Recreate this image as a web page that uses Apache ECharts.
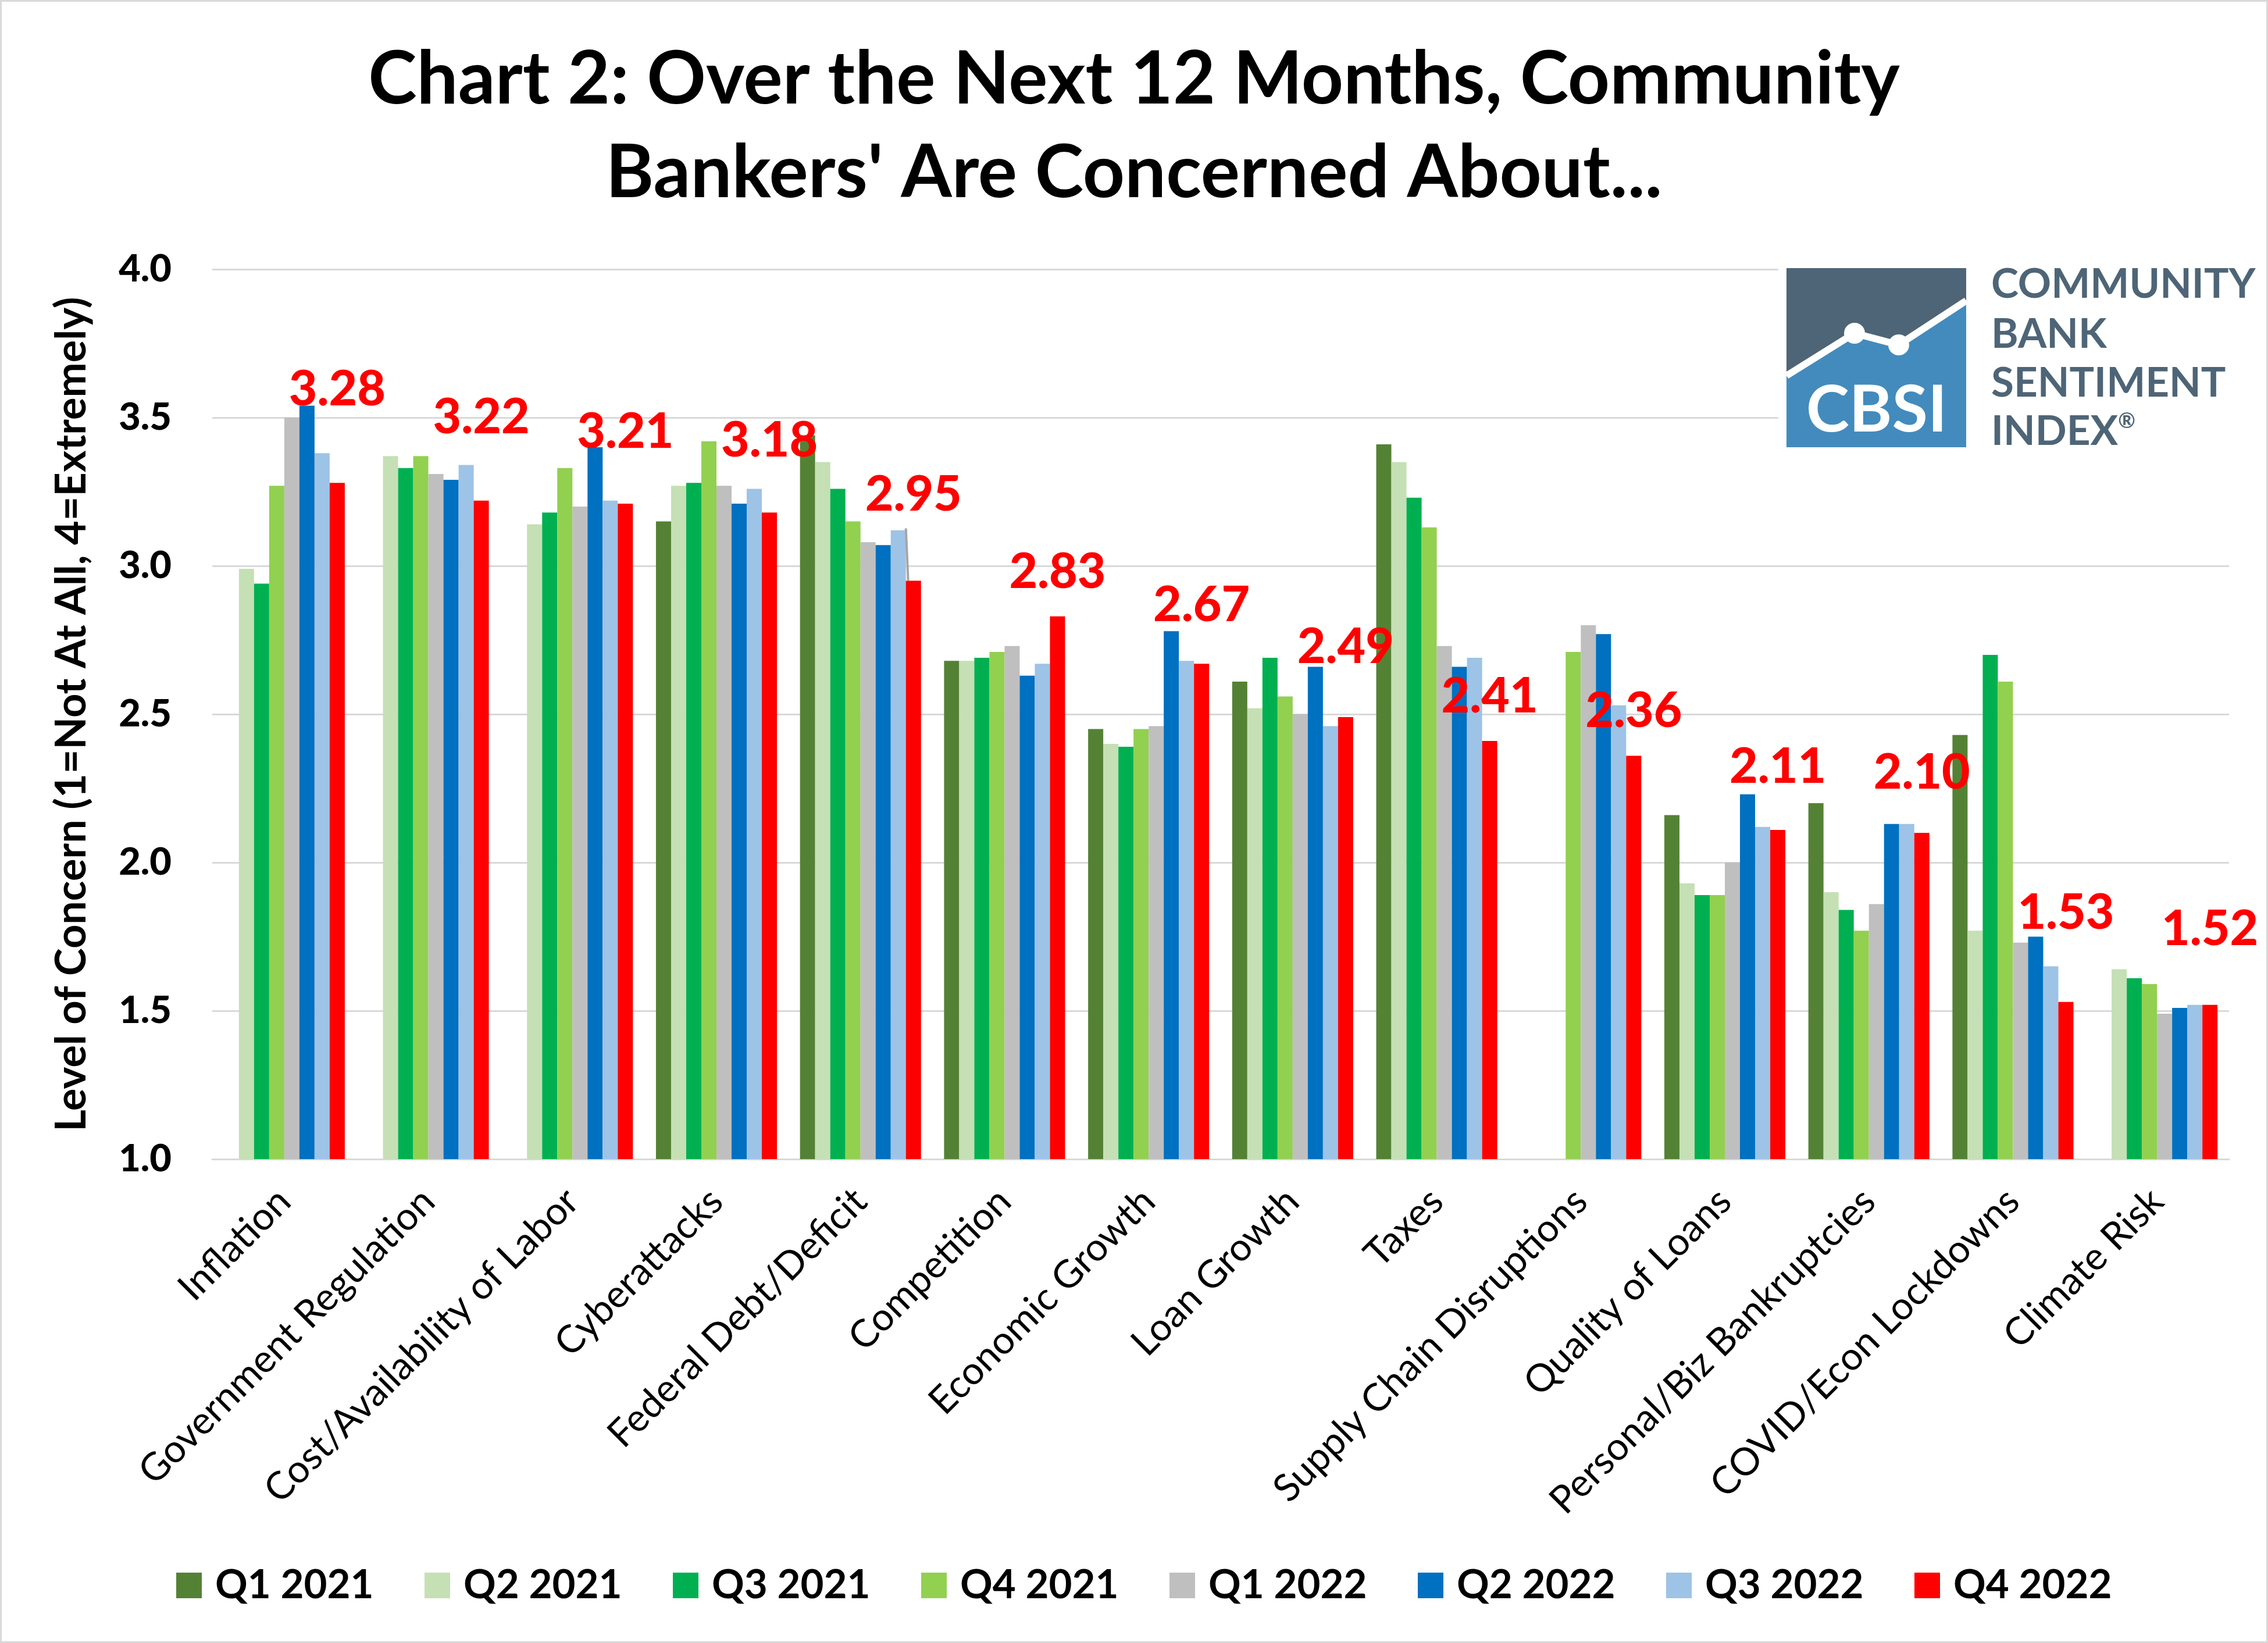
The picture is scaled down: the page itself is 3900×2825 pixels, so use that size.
<!DOCTYPE html>
<html>
<head>
<meta charset="utf-8">
<script src="https://cdn.jsdelivr.net/npm/echarts@6/dist/echarts.min.js"></script>
<style>
html,body{margin:0;padding:0;background:#fff;}
#chart{width:3900px;height:2825px;}
</style>
</head>
<body>
<div id="chart"></div>
<script>
const categories = ["Inflation","Government Regulation","Cost/Availability of Labor","Cyberattacks","Federal Debt/Deficit","Competition","Economic Growth","Loan Growth","Taxes","Supply Chain Disruptions","Quality of Loans","Personal/Biz Bankruptcies","COVID/Econ Lockdowns","Climate Risk"];
const seriesNames = ["Q1 2021","Q2 2021","Q3 2021","Q4 2021","Q1 2022","Q2 2022","Q3 2022","Q4 2022"];
const q1_2021 = [null, null, null, 3.15, 3.44, 2.68, 2.45, 2.61, 3.41, null, 2.16, 2.20, 2.43, null];
const q2_2021 = [2.99, 3.37, 3.14, 3.27, 3.35, 2.68, 2.40, 2.52, 3.35, null, 1.93, 1.90, 1.77, 1.64];
const q3_2021 = [2.94, 3.33, 3.18, 3.28, 3.26, 2.69, 2.39, 2.69, 3.23, null, 1.89, 1.84, 2.70, 1.61];
const q4_2021 = [3.27, 3.37, 3.33, 3.42, 3.15, 2.71, 2.45, 2.56, 3.13, 2.71, 1.89, 1.77, 2.61, 1.59];
const q1_2022 = [3.50, 3.31, 3.20, 3.27, 3.08, 2.73, 2.46, 2.50, 2.73, 2.80, 2.00, 1.86, 1.73, 1.49];
const q2_2022 = [3.54, 3.29, 3.40, 3.21, 3.07, 2.63, 2.78, 2.66, 2.66, 2.77, 2.23, 2.13, 1.75, 1.51];
const q3_2022 = [3.38, 3.34, 3.22, 3.26, 3.12, 2.67, 2.68, 2.46, 2.69, 2.53, 2.12, 2.13, 1.65, 1.52];
const q4_2022 = [3.28, 3.22, 3.21, 3.18, 2.95, 2.83, 2.67, 2.49, 2.41, 2.36, 2.11, 2.10, 1.53, 1.52];
const yTicks = [1.0, 1.5, 2.0, 2.5, 3.0, 3.5, 4.0];
const titleLines = ["Chart 2: Over the Next 12 Months, Community", "Bankers' Are Concerned About..."];

// styling (kept apart from data)
const colors = ["#548235","#C5E0B4","#00B050","#92D050","#BFBFBF","#0070C0","#9DC3E6","#FF0000"];
const q4LabelLift = [118,101,81,81,106,34,58,78,34,34,66,61,111,88];

const allSeries = [q1_2021,q2_2021,q3_2021,q4_2021,q1_2022,q2_2022,q3_2022,q4_2022];
const FONT = "Lato";

const series = allSeries.map((vals, i) => {
  const s = {
    name: seriesNames[i],
    type: 'bar',
    barGap: '0%',
    barCategoryGap: '16%',
    itemStyle: { color: colors[i] },
    data: vals.map(v => v === null ? '-' : v),
    animation: false
  };
  if (i === 7) {
    s.data = vals.map((v, k) => ({
      value: v,
      label: { show: true, position: 'top', distance: q4LabelLift[k] }
    }));
    s.label = {
      show: true, position: 'top', color: '#FF0000', fontFamily: FONT,
      fontWeight: 900, fontSize: 84,
      formatter: p => Number(p.value).toFixed(2)
    };
  }
  return s;
});

// leader line for the Federal Debt/Deficit label (index 4), drawn from data via the scale
function leaderLine(chart) {
  const k = 4;
  const top = chart.convertToPixel({gridIndex: 0}, [k, q4_2022[k]]);
  const catW = chart.convertToPixel({gridIndex: 0}, [1, 0])[0] - chart.convertToPixel({gridIndex: 0}, [0, 0])[0];
  const barW = catW * 0.84 / 8;
  const redX = top[0] + barW * 3.5;
  return { type: 'line', shape: { x1: redX - barW * 0.5, y1: top[1] - 90, x2: redX - barW * 0.35, y2: top[1] },
           style: { stroke: '#A6A6A6', lineWidth: 4 }, z: 60 };
}

const chart = echarts.init(document.getElementById('chart'), null, {renderer: 'canvas'});
const baseGraphic = [
    { type: 'rect', shape: { x: 1.5, y: 1.5, width: 3897, height: 2822 },
      style: { fill: 'none', stroke: '#D9D9D9', lineWidth: 3 }, z: 100 },
    { type: 'text', x: 1950, y: 137, style: { text: titleLines[0], fill: '#000', font: 'bold 126px Lato',
      textAlign: 'center', textVerticalAlign: 'middle' }, z: 60 },
    { type: 'text', x: 1950, y: 298, style: { text: titleLines[1], fill: '#000', font: 'bold 126px Lato',
      textAlign: 'center', textVerticalAlign: 'middle' }, z: 60 },
    { type: 'rect', shape: { x: 3058, y: 440, width: 838, height: 345 }, style: { fill: '#FFFFFF' }, z: 50 },
    { type: 'rect', shape: { x: 3072, y: 461, width: 309, height: 308 }, style: { fill: '#438BBD' }, z: 51 },
    { type: 'polygon', shape: { points: [[3072,461],[3381,461],[3381,517],[3265,593],[3189,573],[3072,646]] },
      style: { fill: '#4E6577' }, z: 52 },
    { type: 'polyline', shape: { points: [[3072,646],[3189,573],[3265,593],[3381,517]] },
      style: { stroke: '#FFFFFF', lineWidth: 12, fill: 'none' }, z: 53 },
    { type: 'circle', shape: { cx: 3189, cy: 573, r: 18 }, style: { fill: '#FFFFFF' }, z: 54 },
    { type: 'circle', shape: { cx: 3265, cy: 593, r: 18 }, style: { fill: '#FFFFFF' }, z: 54 },
    { type: 'text', x: 3227, y: 706, style: { text: 'CBSI', fill: '#FFFFFF', font: 'bold 112px Lato',
      textAlign: 'center', textVerticalAlign: 'middle' }, z: 55 },
    { type: 'text', x: 3424, y: 489, style: { text: 'COMMUNITY', fill: '#4E6577', font: 'bold 71px Lato',
      textAlign: 'left', textVerticalAlign: 'middle' }, z: 55 },
    { type: 'text', x: 3424, y: 575, style: { text: 'BANK', fill: '#4E6577', font: 'bold 71px Lato',
      textAlign: 'left', textVerticalAlign: 'middle' }, z: 55 },
    { type: 'text', x: 3424, y: 659, style: { text: 'SENTIMENT', fill: '#4E6577', font: 'bold 71px Lato',
      textAlign: 'left', textVerticalAlign: 'middle' }, z: 55 },
    { type: 'text', x: 3424, y: 742, style: { text: '{a|INDEX}{r|\u00AE}', fill: '#4E6577',
      rich: { a: { fontFamily: FONT, fontWeight: 'bold', fontSize: 71, fill: '#4E6577', color: '#4E6577' },
              r: { fontFamily: FONT, fontWeight: 'bold', fontSize: 36, fill: '#4E6577', color: '#4E6577', verticalAlign: 'top', padding: [0,0,24,0] } },
      textAlign: 'left', textVerticalAlign: 'middle' }, z: 55 }
];

const option = {
  backgroundColor: '#FFFFFF',
  animation: false,
  color: colors,
  grid: { left: 365, right: 67, top: 463, bottom: 832, containLabel: false },
  legend: {
    data: seriesNames,
    left: 298,
    top: 2686,
    orient: 'horizontal',
    icon: 'rect',
    itemWidth: 44,
    itemHeight: 44,
    itemGap: 70,
    textStyle: { fontFamily: FONT, fontWeight: 'bold', fontSize: 69, color: '#000',
                 lineHeight: 70, width: 290, overflow: 'none', padding: [0,0,0,18] }
  },
  xAxis: {
    type: 'category',
    data: categories,
    axisTick: { show: false },
    axisLine: { show: true, lineStyle: { color: '#D9D9D9', width: 3 } },
    axisLabel: { rotate: 45, interval: 0, margin: 62, fontFamily: FONT, fontSize: 66, color: '#000' }
  },
  yAxis: {
    type: 'value',
    min: yTicks[0],
    max: yTicks[yTicks.length - 1],
    interval: 0.5,
    name: 'Level of Concern (1=Not At All, 4=Extremely)',
    nameLocation: 'middle',
    nameGap: 205,
    nameTextStyle: { fontFamily: FONT, fontWeight: 'bold', fontSize: 72, color: '#000' },
    axisLine: { show: false },
    axisTick: { show: false },
    splitLine: { show: true, lineStyle: { color: '#D9D9D9', width: 3 } },
    axisLabel: { margin: 70, fontFamily: FONT, fontWeight: 900, fontSize: 65, color: '#000',
                 formatter: v => v.toFixed(1) }
  },
  series: series,
  graphic: baseGraphic
};
chart.setOption(option);
chart.setOption({ graphic: baseGraphic.concat([leaderLine(chart)]) }, { replaceMerge: ['graphic'] });
</script>
</body>
</html>
